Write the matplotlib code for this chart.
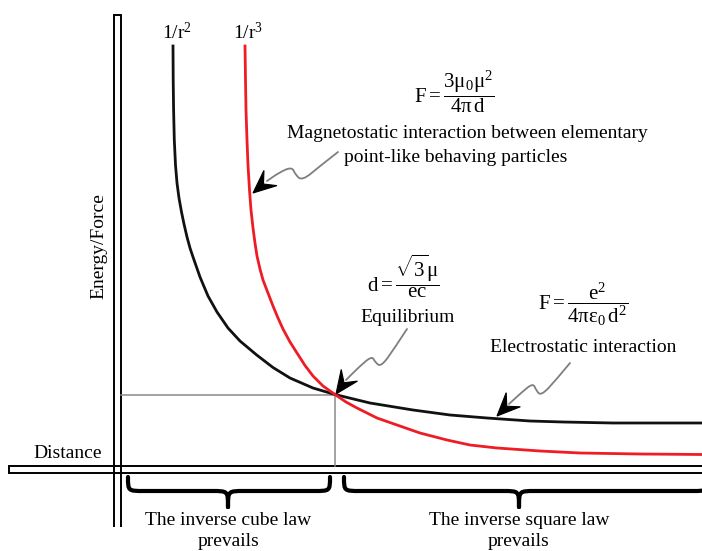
import numpy as np
import matplotlib
matplotlib.use("Agg")
import matplotlib.pyplot as plt
from matplotlib.path import Path
from matplotlib.patches import PathPatch, Polygon

plt.rcParams['font.family'] = ['Liberation Serif', 'DejaVu Serif']
plt.rcParams['mathtext.fontset'] = 'custom'
plt.rcParams['mathtext.rm'] = 'Liberation Serif'
plt.rcParams['mathtext.it'] = 'Liberation Serif:italic'
plt.rcParams['mathtext.bf'] = 'Liberation Serif:bold'

# ---- data (pixel-space coordinates of the schematic) ----
inv_square_x = [173, 173.2, 173.6, 174.3, 175.5, 177, 179, 181.5, 184, 187, 190, 193,
                196.5, 200, 208, 217, 228, 240, 256.7, 273, 290, 313, 335, 370, 413,
                450, 487, 530, 563, 613, 702]
inv_square_y = [46, 80, 110, 140, 165, 183, 198, 212, 224, 237, 248, 257,
                267, 277, 296, 312, 328, 341, 355, 367.5, 378, 388, 394.5, 403, 410,
                415, 418, 421, 422, 423, 423]
inv_cube_x = [245, 245.5, 246, 247, 248, 249.5, 251, 253, 255, 257, 260, 263, 268,
              273, 278, 283, 290, 297, 305, 313, 323, 335, 346, 357, 377, 397, 420,
              447, 470, 497, 540, 580, 640, 702]
inv_cube_y = [46, 80, 110, 140, 165, 190, 210, 228, 243, 256, 269, 280, 293,
              306, 318, 329, 342, 353, 365.5, 376, 386, 394.5, 402, 408, 418, 425, 433,
              440, 445, 448, 451, 453, 454, 454.5]
equilibrium = (335, 394.5)

curve_labels = [r'$\mathrm{1/r^2}$', r'$\mathrm{1/r^3}$']
axis_labels = ['Energy/Force', 'Distance']
region_labels = ['The inverse cube law\nprevails', 'The inverse square law\nprevails']

fig = plt.figure(figsize=(7.02, 5.51), dpi=100)
ax = fig.add_axes([0, 0, 1, 1])
ax.set_xlim(0, 702)
ax.set_ylim(551, 0)
ax.axis('off')

FS = 14
MFS = 15

# ---- double-line axes ----
axlw = 1.4
ax.plot([114, 114], [15, 527], color='black', lw=axlw, solid_capstyle='butt')
ax.plot([120.5, 120.5], [15, 527], color='black', lw=axlw, solid_capstyle='butt')
ax.plot([114, 120.5], [15, 15], color='black', lw=axlw)
ax.plot([9, 702], [466, 466], color='black', lw=axlw, solid_capstyle='butt')
ax.plot([9, 702], [472.5, 472.5], color='black', lw=axlw, solid_capstyle='butt')
ax.plot([9, 9], [466, 472.5], color='black', lw=axlw)

# ---- equilibrium guide lines ----
ax.plot([121, equilibrium[0]], [equilibrium[1], equilibrium[1]], color='#8a8a8a', lw=1.1)
ax.plot([equilibrium[0], equilibrium[0]], [equilibrium[1], 466], color='#8a8a8a', lw=1.1)

# ---- curves ----
ax.plot(inv_square_x, inv_square_y, color='#111111', lw=2.0, solid_joinstyle='round')
ax.plot(inv_cube_x, inv_cube_y, color='#ee1c24', lw=2.0, solid_joinstyle='round')

ax.text(177, 32, curve_labels[0], fontsize=FS, ha='center', va='center')
ax.text(248, 32, curve_labels[1], fontsize=FS, ha='center', va='center')

ax.text(99, 246, axis_labels[0], fontsize=FS, rotation=90, ha='center', va='center')
ax.text(68, 453, axis_labels[1], fontsize=FS, ha='center', va='center')

# ---- formulas and descriptions ----
ax.text(454, 92, r'$\mathrm{F = \dfrac{3\mu_0\mu^2}{4\pi\,d}}$', fontsize=MFS,
        ha='center', va='center')
ax.text(467, 134, 'Magnetostatic interaction between elementary', fontsize=FS,
        ha='center', va='center')
ax.text(456, 158, 'point-like behaving particles', fontsize=FS, ha='center', va='center')

ax.text(403, 276, r'$\mathrm{d = \dfrac{\sqrt{3}\mu}{ec}}$', fontsize=MFS,
        ha='center', va='center')
ax.text(408, 317, 'Equilibrium', fontsize=FS, ha='center', va='center')

ax.text(583, 304, r'$\mathrm{F = \dfrac{e^2}{4\pi\varepsilon_0\,d^2}}$', fontsize=MFS,
        ha='center', va='center')
ax.text(583, 347, 'Electrostatic interaction', fontsize=FS, ha='center', va='center')


# ---- squiggly pointer arrows ----
def squiggle(pts, tip):
    pts = np.asarray(pts, float)
    verts = [pts[0]]
    codes = [Path.MOVETO]
    for i in range(1, len(pts) - 1):
        mid = (pts[i] + pts[i + 1]) / 2
        verts += [pts[i], mid]
        codes += [Path.CURVE3, Path.CURVE3]
    verts.append(pts[-1])
    codes.append(Path.LINETO)
    ax.add_patch(PathPatch(Path(verts, codes), fill=False, edgecolor='#7f7f7f', lw=1.3,
                           capstyle='round'))
    tip = np.asarray(tip, float)
    d = tip - pts[-1]
    d /= np.hypot(*d)
    n = np.array([-d[1], d[0]])
    L, W = 23, 10
    head = [tip, tip - L * d + W * n, tip - 0.6 * L * d, tip - L * d - W * n]
    ax.add_patch(Polygon(head, closed=True, facecolor='black', edgecolor='black', lw=0.8))


squiggle([(338, 152), (320, 166), (302, 181), (295, 174), (292, 167), (280, 172), (267, 181)],
         (253, 193))
squiggle([(407, 329), (394, 349), (381, 367), (375, 362), (372, 356), (360, 366), (346, 380)],
         (336, 394))
squiggle([(570, 363), (556, 380), (541, 396), (536, 390), (533, 383), (521, 393), (509, 404)],
         (497, 416))


# ---- curly braces ----
def brace(x0, x1, xt, y0, ym, yt, r=16):
    verts = [(x0, y0), (x0, ym), (x0, ym), (x0 + r, ym),
             (xt - r, ym),
             (xt, ym), (xt, ym), (xt, yt),
             (xt, ym), (xt, ym), (xt + r, ym),
             (x1 - r, ym),
             (x1, ym), (x1, ym), (x1, y0)]
    codes = [Path.MOVETO, Path.CURVE4, Path.CURVE4, Path.CURVE4,
             Path.LINETO,
             Path.CURVE4, Path.CURVE4, Path.CURVE4,
             Path.CURVE4, Path.CURVE4, Path.CURVE4,
             Path.LINETO,
             Path.CURVE4, Path.CURVE4, Path.CURVE4]
    ax.add_patch(PathPatch(Path(verts, codes), fill=False, edgecolor='black', lw=3.0,
                           joinstyle='round', capstyle='round'))


brace(128, 330, 228, 477, 491, 507)
brace(344, 708, 519, 477, 491, 507)

ax.text(228, 531, region_labels[0], fontsize=FS, ha='center', va='center', linespacing=1.3)
ax.text(519, 531, region_labels[1], fontsize=FS, ha='center', va='center', linespacing=1.3)

fig.savefig('out.png', dpi=100)
